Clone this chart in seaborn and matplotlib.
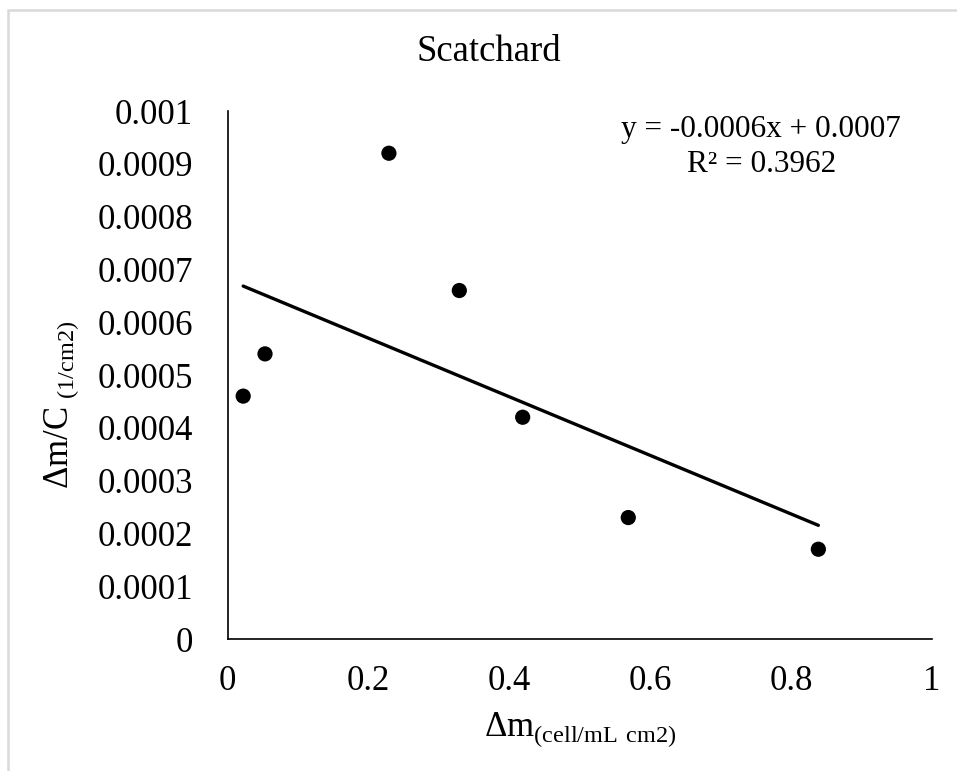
import matplotlib
matplotlib.use("Agg")
import matplotlib.pyplot as plt
import seaborn as sns
import pandas as pd
from matplotlib.patches import Rectangle

# Data
delta_m = [0.022, 0.053, 0.229, 0.329, 0.419, 0.569, 0.839]
delta_m_over_c = [0.00046, 0.00054, 0.00092, 0.00066, 0.00042, 0.00023, 0.00017]
x_ticks = [0, 0.2, 0.4, 0.6, 0.8, 1.0]
x_tick_labels = ["0", "0.2", "0.4", "0.6", "0.8", "1"]
y_ticks = [0, 0.0001, 0.0002, 0.0003, 0.0004, 0.0005, 0.0006, 0.0007, 0.0008, 0.0009, 0.001]
y_tick_labels = ["0", "0.0001", "0.0002", "0.0003", "0.0004", "0.0005",
                 "0.0006", "0.0007", "0.0008", "0.0009", "0.001"]
title = "Scatchard"
equation_text = "y = -0.0006x + 0.0007"
r2_text = "R\u00b2 = 0.3962"

df = pd.DataFrame({"dm": delta_m, "dmc": delta_m_over_c})

sns.set_theme(style="white")
plt.rcParams["font.family"] = ["Liberation Serif", "DejaVu Serif"]
plt.rcParams["mathtext.fontset"] = "custom"
plt.rcParams["mathtext.rm"] = "Liberation Serif"
plt.rcParams["text.color"] = "black"
plt.rcParams["axes.labelcolor"] = "black"

W, H = 957, 771
fig = plt.figure(figsize=(W / 100, H / 100), dpi=100)
fig.patch.set_facecolor("white")

# chart-area border (light gray)
fig.patches.append(Rectangle((8 / W, -0.05), 1.2, 1 - 10 / H + 0.05, transform=fig.transFigure,
                             fill=False, edgecolor="#d9d9d9", linewidth=1.8, zorder=0))

ax_left, ax_right, ax_top, ax_bottom = 227.7, 931.7, 111, 639
ax = fig.add_axes([ax_left / W, 1 - ax_bottom / H, (ax_right - ax_left) / W, (ax_bottom - ax_top) / H])

sns.regplot(data=df, x="dm", y="dmc", ax=ax, ci=None, truncate=True,
            scatter_kws=dict(s=120, color="black", alpha=1, edgecolors="none", zorder=3),
            line_kws=dict(color="black", linewidth=2.4))

ax.set_xlim(0, 1)
ax.set_ylim(0, 0.001)
ax.set_xticks(x_ticks)
ax.set_xticklabels(x_tick_labels)
ax.set_yticks(y_ticks)
ax.set_yticklabels(y_tick_labels)
ax.tick_params(axis="both", length=0, labelsize=25, colors="black")
ax.tick_params(axis="y", pad=25)
ax.tick_params(axis="x", pad=19)

for s in ["top", "right"]:
    ax.spines[s].set_visible(False)
for s in ["left", "bottom"]:
    ax.spines[s].set_color("black")
    ax.spines[s].set_linewidth(1.2)
ax.grid(False)
ax.set_facecolor("white")

ax.set_xlabel("\u0394m$_{\\mathregular{(cell/mL\\ cm2)}}$", fontsize=25, va="center", color="black")
ax.xaxis.set_label_coords(0.5, (ax_bottom - 730) / (ax_bottom - ax_top))
ax.set_ylabel("\u0394m/C$_{\\mathregular{\\ (1/cm2)}}$", fontsize=25, va="center", color="black")
ax.yaxis.set_label_coords((62 - ax_left) / (ax_right - ax_left), (ax_bottom - 405) / (ax_bottom - ax_top))

fig.suptitle(title, x=489 / W, y=1 - 52 / H, va="center", fontsize=26.5, color="black")

# trendline label, positioned in figure pixels
ax.text(761, H - 130, equation_text, transform=None, fontsize=22.5, ha="center", va="center", color="black")
ax.text(762, H - 165, r2_text, transform=None, fontsize=22.5, ha="center", va="center", color="black")

fig.savefig("out.png", dpi=100, facecolor="white")
